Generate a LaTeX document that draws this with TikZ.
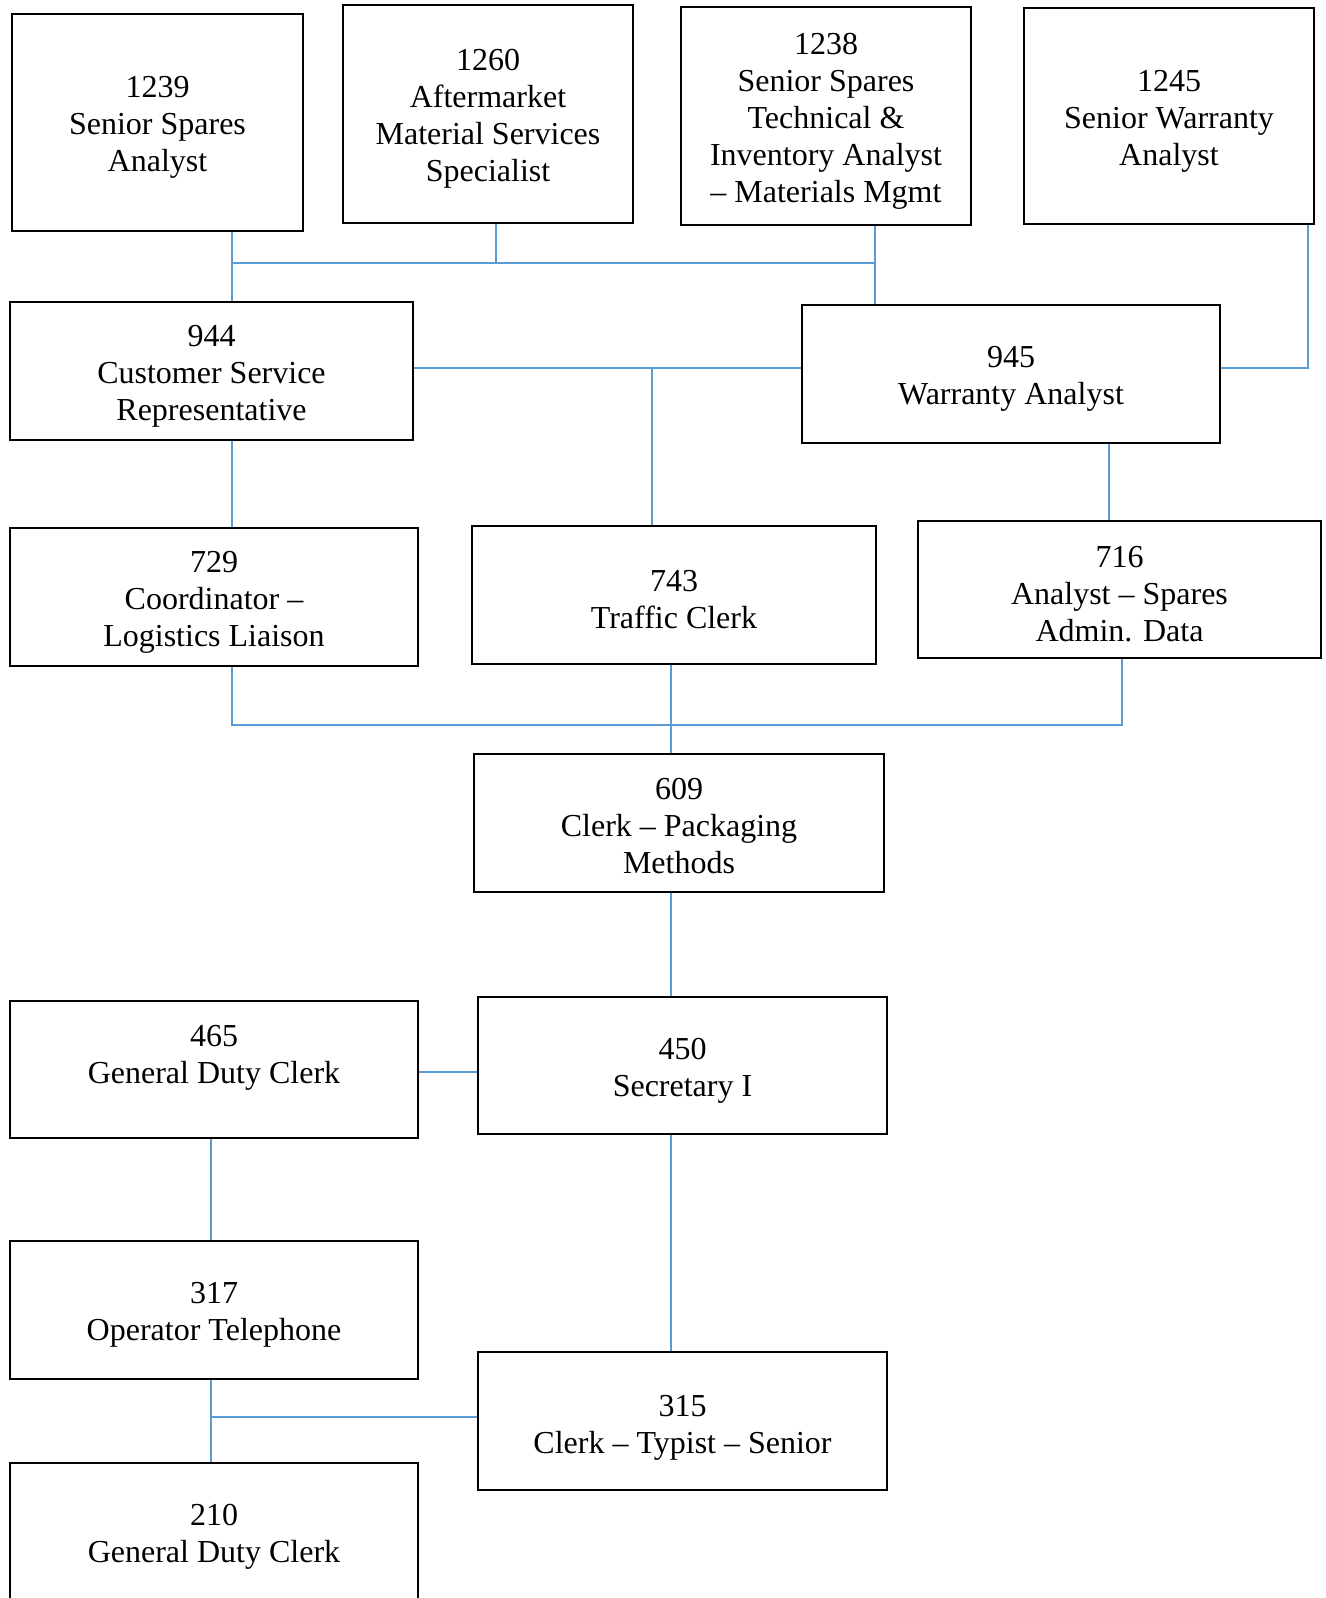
\documentclass[tikz,border=0pt]{standalone}
\usepackage{fontspec}
\setmainfont{Liberation Serif}
\usetikzlibrary{backgrounds}
\definecolor{linkblue}{RGB}{91,155,213}
\begin{document}
\begin{tikzpicture}[x=1pt,y=-1pt,
  box/.style={draw=black, line width=2.2pt, rectangle, inner sep=0pt},
  txt/.style={align=center, inner sep=0pt, yshift=-5pt,
    font=\fontsize{32}{37}\selectfont},
  link/.style={draw=linkblue, line width=1.4pt}]
\useasboundingbox (0,0) rectangle (1325,1598);

% top row
\node[box, minimum width=291, minimum height=217] (n1239) at (157.5,122.5) {};
\node[box, minimum width=290, minimum height=218] (n1260) at (488,114) {};
\node[box, minimum width=290, minimum height=218] (n1238) at (826,116) {};
\node[box, minimum width=290, minimum height=216] (n1245) at (1169,116) {};

% second row
\node[box, minimum width=403, minimum height=138] (n944) at (211.5,371) {};
\node[box, minimum width=418, minimum height=138] (n945) at (1011,374) {};

% third row
\node[box, minimum width=408, minimum height=138] (n729) at (214,597) {};
\node[box, minimum width=404, minimum height=138] (n743) at (674,595) {};
\node[box, minimum width=403, minimum height=137] (n716) at (1119.5,589.5) {};

% lower part
\node[box, minimum width=410, minimum height=138] (n609) at (679,823) {};
\node[box, minimum width=408, minimum height=137] (n465) at (214,1069.5) {};
\node[box, minimum width=409, minimum height=137] (n450) at (682.5,1065.5) {};
\node[box, minimum width=408, minimum height=138] (n317) at (214,1310) {};
\node[box, minimum width=409, minimum height=138] (n315) at (682.5,1421) {};
\node[box, minimum width=408, minimum height=138] (n210) at (214,1532) {};

% job titles
\node[txt] (t1239) at (n1239.center) {1239\\Senior Spares\\Analyst};
\node[txt] (t1260) at (n1260.center) {1260\\Aftermarket\\Material Services\\Specialist};
\node[txt] (t1238) at (n1238.center) {1238\\Senior Spares\\Technical \&\\Inventory Analyst\\-- Materials Mgmt};
\node[txt] (t1245) at (n1245.center) {1245\\Senior Warranty\\Analyst};
\node[txt] (t944) at (n944.center) {944\\Customer Service\\Representative};
\node[txt] (t945) at (n945.center) {945\\Warranty Analyst};
\node[txt] (t729) at (n729.center) {729\\Coordinator --\\Logistics Liaison};
\node[txt] (t743) at (n743.center) {743\\Traffic Clerk};
\node[txt] (t716) at (n716.center) {716\\Analyst -- Spares\\Admin. Data};
\node[txt, yshift=2pt] (t609) at (n609.center) {609\\Clerk -- Packaging\\Methods};
\node[txt, yshift=2pt] (t465) at (n465.center) {465\\General Duty Clerk\\\mbox{}};
\node[txt] (t450) at (n450.center) {450\\Secretary I};
\node[txt] (t317) at (n317.center) {317\\Operator Telephone};
\node[txt, yshift=-2pt] (t315) at (n315.center) {315\\Clerk -- Typist -- Senior};
\node[txt] (t210) at (n210.center) {210\\General Duty Clerk};

% junction points of the connectors
\coordinate (busL) at (232,263);
\coordinate (busR) at (875,263);
\coordinate (tap1260) at (496,263);
\coordinate (midA) at (652,368);
\coordinate (elbow) at (1308,368);
\coordinate (drop945) at (1109,0);
\coordinate (busB) at (232,725);
\coordinate (busBR) at (1122,725);
\coordinate (spine) at (671,0);
\coordinate (tie465) at (0,1072);
\coordinate (leftSpine) at (211,1417);

\begin{scope}[on background layer]
\draw[link] (n1239.south -| busL) -- (n944.north -| busL);
\draw[link] (busL) -- (busR);
\draw[link] (n1260.south -| tap1260) -- (tap1260);
\draw[link] (n1238.south -| busR) -- (n945.north -| busR);
\draw[link] (n944.east |- midA) -- (n945.west |- midA);
\draw[link] (midA) -- (n743.north -| midA);
\draw[link] (n1245.south -| elbow) -- (elbow) -- (n945.east |- elbow);
\draw[link] (n944.south -| busL) -- (n729.north -| busL);
\draw[link] (n945.south -| drop945) -- (n716.north -| drop945);
\draw[link] (n729.south -| busB) -- (busB) -- (busBR) -- (n716.south -| busBR);
\draw[link] (n743.south -| spine) -- (n609.north -| spine);
\draw[link] (n609.south -| spine) -- (n450.north -| spine);
\draw[link] (n465.east |- tie465) -- (n450.west |- tie465);
\draw[link] (n450.south -| spine) -- (n315.north -| spine);
\draw[link] (n465.south -| leftSpine) -- (n317.north -| leftSpine);
\draw[link] (n317.south -| leftSpine) -- (n210.north -| leftSpine);
\draw[link] (leftSpine) -- (n315.west |- leftSpine);
\end{scope}
\end{tikzpicture}
\end{document}
